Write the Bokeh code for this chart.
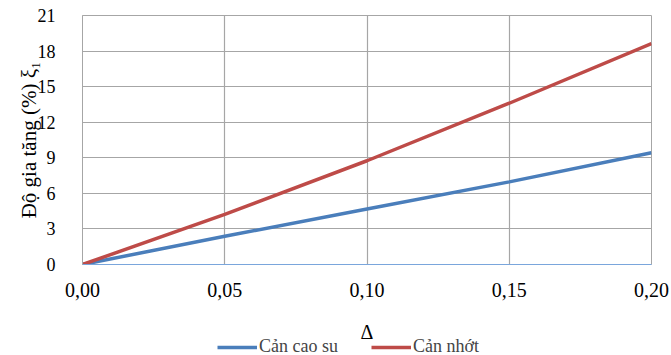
from bokeh.plotting import figure
from bokeh.layouts import column
from bokeh.models import FixedTicker, Legend, LegendItem, Range1d
from bokeh.core.properties import value
from bokeh.embed import file_html
from bokeh.resources import INLINE

delta = [0.0, 0.05, 0.10, 0.15, 0.20]
can_cao_su = [0.0, 2.38, 4.68, 6.97, 9.42]
can_nhot = [0.0, 4.22, 8.75, 13.6, 18.63]
x_ticks = [0.0, 0.05, 0.10, 0.15, 0.20]
x_tick_labels = ["0,00", "0,05", "0,10", "0,15", "0,20"]
y_ticks = [0, 3, 6, 9, 12, 15, 18, 21]
series_names = ["Cản cao su", "Cản nhớt"]
series_colors = ["#4a7ebb", "#be4b48"]
x_title = "Δ"
y_title = "Độ gia tăng (%) ξ₁"

FONT = "Liberation Serif"

# ---------- main chart ----------
p = figure(frame_width=569, frame_height=249, output_backend="svg", toolbar_location=None,
           x_range=Range1d(0, 0.2), y_range=Range1d(0, 21),
           min_border_left=82, min_border_right=20, min_border_top=15, min_border_bottom=50)

p.outline_line_color = "#a6a6a6"
p.outline_line_width = 1

p.line(delta, can_cao_su, line_color=series_colors[0], line_width=3.5)
p.line(delta, can_nhot, line_color=series_colors[1], line_width=3.5)

for ax in (p.xaxis[0], p.yaxis[0]):
    ax.major_tick_line_color = None
    ax.minor_tick_line_color = None
    ax.major_label_text_color = "#000000"
    ax.major_label_text_font = FONT
    ax.axis_label_text_font = FONT
    ax.axis_label_text_font_style = "normal"
    ax.axis_label_text_color = "#000000"

p.xaxis.ticker = FixedTicker(ticks=x_ticks)
p.xaxis.major_label_overrides = {t: l for t, l in zip(x_ticks, x_tick_labels)}
p.xaxis.major_label_text_font_size = "20px"
p.xaxis.axis_line_color = "#7aa6dc"
p.xaxis.axis_line_width = 1
p.xaxis.major_label_standoff = 12

p.yaxis.ticker = FixedTicker(ticks=y_ticks)
p.yaxis.major_label_text_font_size = "18px"
p.yaxis.axis_line_color = "#a6a6a6"
p.yaxis.axis_label = y_title
p.yaxis.axis_label_text_font_size = "21px"
p.yaxis.major_label_standoff = 21
p.yaxis.axis_label_standoff = -6

p.xgrid.ticker = FixedTicker(ticks=x_ticks)
p.ygrid.ticker = FixedTicker(ticks=y_ticks)
p.xgrid.grid_line_color = "#a6a6a6"
p.ygrid.grid_line_color = "#a6a6a6"
p.xgrid.grid_line_width = 1.2
p.ygrid.grid_line_width = 1.2

# ---------- x title + legend strip ----------
q = figure(frame_width=569, frame_height=41, output_backend="svg", toolbar_location=None,
           x_range=Range1d(0, 0.2), y_range=Range1d(0, 41),
           min_border_left=82, min_border_right=20, min_border_top=0, min_border_bottom=0)
q.xaxis.visible = False
q.yaxis.visible = False
q.xgrid.visible = False
q.ygrid.visible = False
q.outline_line_color = None

q.text(x=[(x_ticks[0] + x_ticks[-1]) / 2], y=[24], text=[x_title],
       text_align="center", text_baseline="middle",
       text_font=value(FONT), text_font_size="20px", text_color="#000000")

# legend keys: the same series drawn on an off-screen range, so only the keys show
q.extra_y_ranges = {"offscreen": Range1d(1000, 1021)}
k1 = q.line(delta, can_cao_su, line_color=series_colors[0], line_width=3.5, y_range_name="offscreen")
k2 = q.line(delta, can_nhot, line_color=series_colors[1], line_width=3.5, y_range_name="offscreen")

legend = Legend(items=[LegendItem(label=series_names[0], renderers=[k1]),
                       LegendItem(label=series_names[1], renderers=[k2])],
                orientation="horizontal", location=(135, -2),
                label_text_font=FONT, label_text_font_size="18px",
                glyph_width=40, glyph_height=16, label_standoff=2, spacing=33,
                border_line_color=None, background_fill_alpha=0,
                padding=0, margin=0)
q.add_layout(legend, "center")

layout = column(p, q, spacing=0)
open("out.html", "w").write(file_html(layout, INLINE))
